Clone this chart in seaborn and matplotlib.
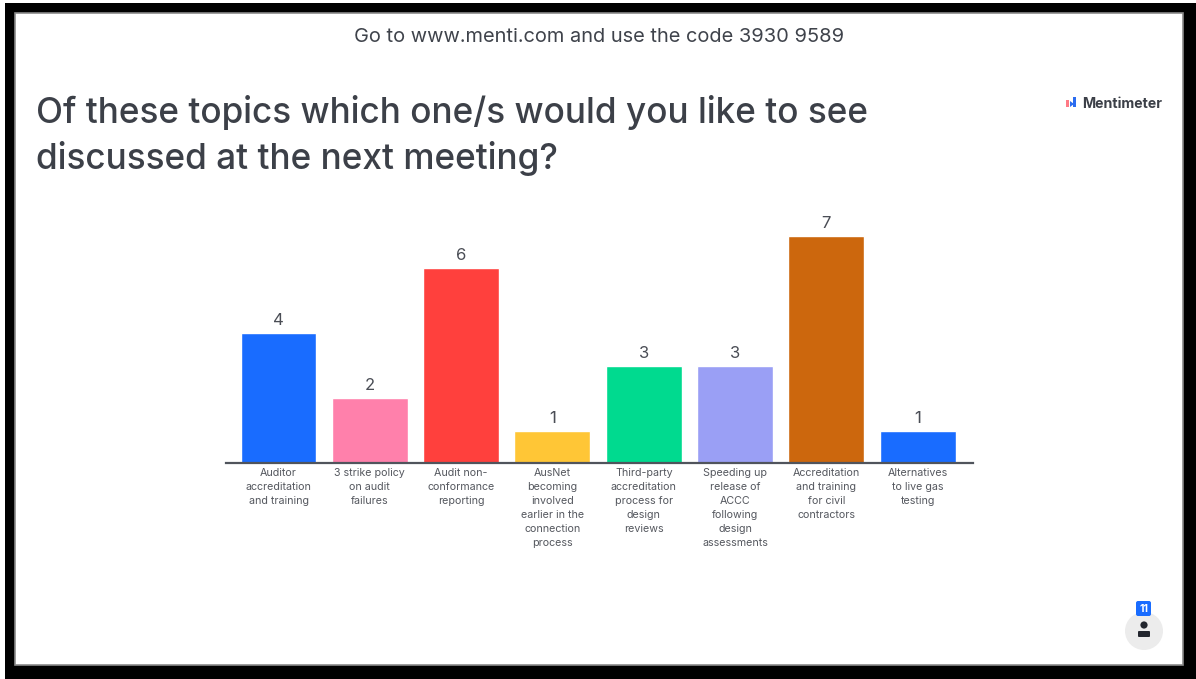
import matplotlib
matplotlib.use('Agg')
import matplotlib.pyplot as plt
from matplotlib.patches import Rectangle, Circle, FancyBboxPatch, Polygon
import pandas as pd
import seaborn as sns

W, H = 1196, 679

topics = [
    'Auditor\naccreditation\nand training',
    '3 strike policy\non audit\nfailures',
    'Audit non-\nconformance\nreporting',
    'AusNet\nbecoming\ninvolved\nearlier in the\nconnection\nprocess',
    'Third-party\naccreditation\nprocess for\ndesign\nreviews',
    'Speeding up\nrelease of\nACCC\nfollowing\ndesign\nassessments',
    'Accreditation\nand training\nfor civil\ncontractors',
    'Alternatives\nto live gas\ntesting',
]
votes = [4, 2, 6, 1, 3, 3, 7, 1]
colors = ['#196cff', '#ff80ab', '#ff403d', '#ffc636', '#00da8f', '#9a9ff5', '#cc670d', '#196cff']

sns.set_theme(style='white')
plt.rcParams['font.family'] = ['Inter', 'DejaVu Sans']

fig = plt.figure(figsize=(W / 100, H / 100), dpi=100, facecolor='white')


def px_axes(left, top, right, bottom):
    return fig.add_axes([left / W, 1 - bottom / H, (right - left) / W, (bottom - top) / H])


# slide frame and overlay drawn in pixel coordinates
bg = fig.add_axes([0, 0, 1, 1], zorder=0)
bg.set_xlim(0, W)
bg.set_ylim(H, 0)
bg.axis('off')
bg.add_patch(Rectangle((5, 3), W - 5, H - 3, color='black', lw=0))
bg.add_patch(Rectangle((15, 13), 1168, 652, facecolor='white', edgecolor='#8a8a8a', lw=1.2))

text_col = '#3c4048'
bg.text(599, 36.5, 'Go to www.menti.com and use the code 3930 9589', ha='center', va='center',
        fontsize=14.4, color='#3f434b')
bg.text(36, 113, 'Of these topics which one/s would you like to see', ha='left', va='center',
        fontsize=25.3, color=text_col, fontweight='medium')
bg.text(36, 159, 'discussed at the next meeting?', ha='left', va='center',
        fontsize=25.3, color=text_col, fontweight='medium')

# logo
bg.add_patch(Rectangle((1066, 100), 3, 7, color='#ff7a85', lw=0))
bg.add_patch(Polygon([(1070, 107), (1070, 101), (1074, 104)], color='#2b6cf0', lw=0))
bg.add_patch(Rectangle((1073, 97), 3, 10, color='#2b6cf0', lw=0))
bg.text(1082, 104, 'Mentimeter', ha='left', va='center', fontsize=10.2, color='#3c4048', fontweight='bold')

# participant counter
bg.add_patch(Circle((1144, 631), 19, color='#ececec', lw=0))
bg.add_patch(Circle((1144, 625), 3.6, color='#23262e', lw=0))
bg.add_patch(FancyBboxPatch((1139, 632), 10, 4, boxstyle='round,pad=1', color='#23262e', lw=0))
bg.add_patch(FancyBboxPatch((1138, 603), 11, 11, boxstyle='round,pad=2', color='#196cff', lw=0))
bg.text(1143.5, 608.5, '11', ha='center', va='center', fontsize=7.5, color='white', fontweight='bold')

# chart
df = pd.DataFrame({'topic': topics, 'votes': votes})
ax = px_axes(226, 199, 973, 463)
ax.set_zorder(1)
ax.patch.set_alpha(0)
sns.barplot(data=df, x='topic', y='votes', hue='topic', palette=colors, legend=False,
            width=0.832, saturation=1, ax=ax)
ax.set_xlim(-0.575, 7.605)
ax.set_ylim(0, 264 / 32.45)
ax.set_xlabel('')
ax.set_ylabel('')
ax.set_yticks([])
sns.despine(ax=ax, left=True)
ax.spines['bottom'].set_color('#50545c')
ax.spines['bottom'].set_linewidth(1.6)
ax.tick_params(axis='x', length=0, pad=3.5)
ax.set_xticks(range(len(topics)))
ax.set_xticklabels(topics, fontsize=7.7, color='#55585f', linespacing=1.5)
for container in ax.containers:
    ax.bar_label(container, fontsize=12, color='#4a4d55', padding=3.5)

fig.savefig('out.png', dpi=100)
